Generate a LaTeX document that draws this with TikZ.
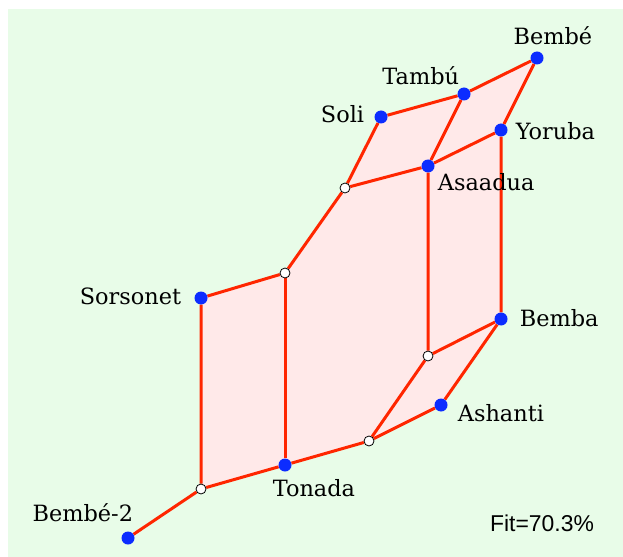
\documentclass[tikz,border=0pt]{standalone}
\usepackage{fontspec}
\setmainfont{DejaVu Serif}
\newfontfamily\fitfont{Liberation Sans}
\usetikzlibrary{backgrounds}

\definecolor{panelgreen}{RGB}{232,252,232}
\definecolor{cellpink}{RGB}{255,233,233}
\definecolor{edgered}{RGB}{255,38,0}
\definecolor{dotblue}{RGB}{12,44,255}

\begin{document}
\begin{tikzpicture}[x=1bp,y=-1bp,
    dot/.style={circle,fill=dotblue,minimum size=13bp,inner sep=0},
    split/.style={circle,draw=black,fill=white,line width=0.8bp,minimum size=10bp,inner sep=0},
    lab/.style={inner sep=0,font=\fontsize{22.5}{27}\selectfont},
    edge/.style={draw=edgered,line width=3bp,line join=round}]
  \useasboundingbox (0,0) rectangle (623,557);

  % taxa
  \node[dot,label={[lab,xshift=16,yshift=6]above:Bembé}] (bembe) at (537,58) {};
  \node[dot,label={[lab,yshift=4]above left:Tambú}] (tambu) at (464,94) {};
  \node[dot,label={[lab,xshift=-10,yshift=3]left:Soli}] (soli) at (381,117) {};
  \node[dot,label={[lab,xshift=8,yshift=-1]right:Yoruba}] (yoruba) at (501,130) {};
  \node[dot,label={[lab,xshift=5,yshift=-3]below right:Asaadua}] (asaadua) at (428,166) {};
  \node[dot,label={[lab,xshift=-13,yshift=2]left:Sorsonet}] (sorsonet) at (201,298) {};
  \node[dot,label={[lab,xshift=12,yshift=1]right:Bemba}] (bemba) at (501,319) {};
  \node[dot,label={[lab,xshift=10,yshift=-8]right:Ashanti}] (ashanti) at (441,405) {};
  \node[dot,label={[lab,xshift=29,yshift=-8]below:Tonada}] (tonada) at (285,465) {};
  \node[dot,label={[lab,xshift=10,yshift=11]above left:Bembé-2}] (bembetwo) at (128,538) {};

  % splits
  \node[split] (s1) at (345,188) {};
  \node[split] (s2) at (285,273) {};
  \node[split] (s3) at (428,356) {};
  \node[split] (s4) at (369,441) {};
  \node[split] (s5) at (201,489) {};

  \node[font=\fitfont\fontsize{23}{27}\selectfont,inner sep=0] (fit) at (542,523) {Fit=70.3\%};

  \begin{scope}[on background layer]
    \fill[panelgreen] (8,9) rectangle (623,557);
    \fill[cellpink] (bembe.center) -- (tambu.center) -- (soli.center) -- (s1.center)
      -- (s2.center) -- (sorsonet.center) -- (s5.center) -- (tonada.center)
      -- (s4.center) -- (ashanti.center) -- (bemba.center) -- (yoruba.center) -- cycle;
    \draw[edge] (bembe) -- (tambu) -- (soli) -- (s1) -- (s2) -- (sorsonet) -- (s5)
      -- (tonada) -- (s4) -- (ashanti) -- (bemba) -- (yoruba) -- (bembe);
    \draw[edge] (tambu) -- (asaadua) -- (yoruba);
    \draw[edge] (s1) -- (asaadua) -- (s3) -- (bemba);
    \draw[edge] (s3) -- (s4);
    \draw[edge] (s2) -- (tonada);
    \draw[edge] (s5) -- (bembetwo);
  \end{scope}
\end{tikzpicture}
\end{document}
